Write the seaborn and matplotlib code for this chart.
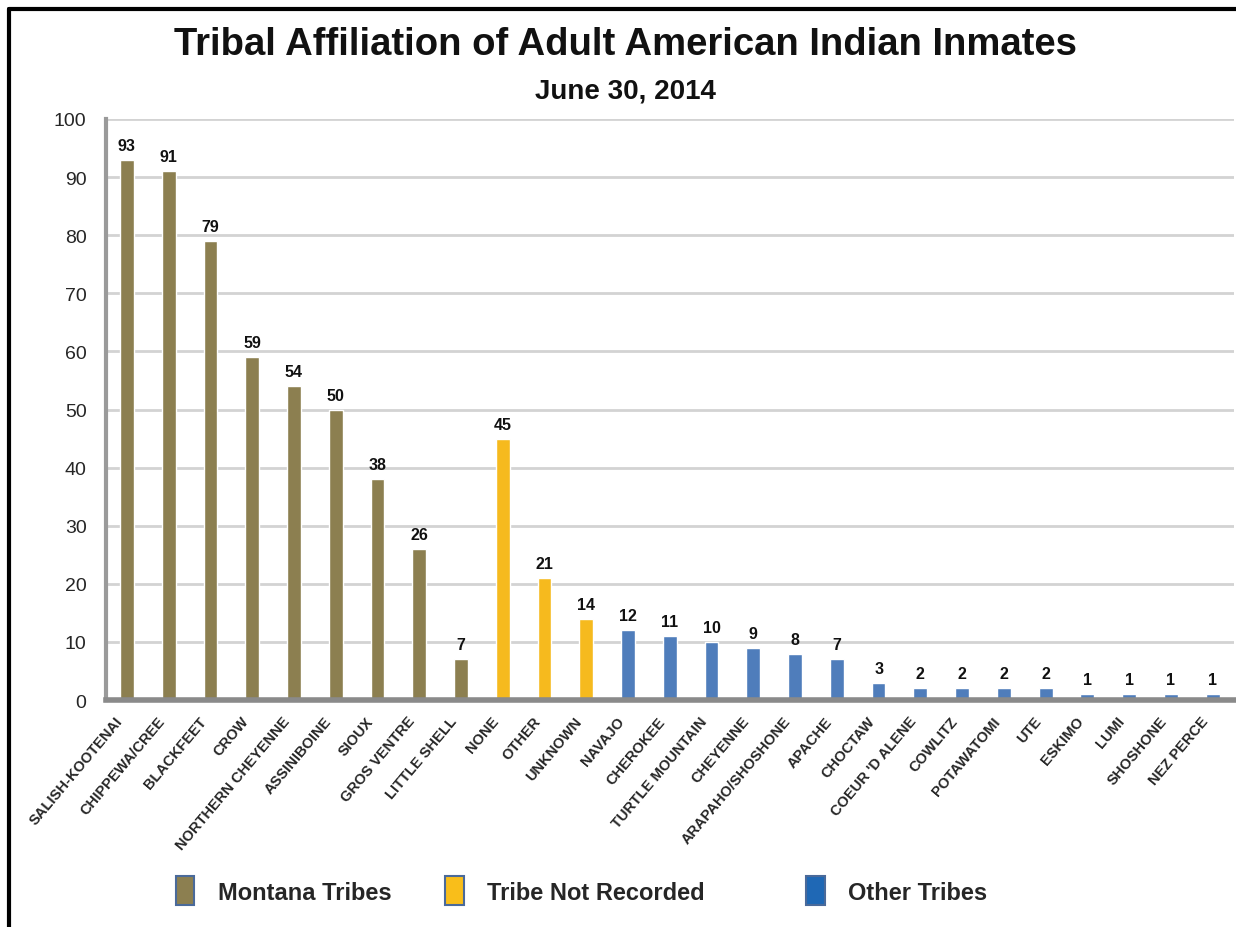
import numpy as np
import pandas as pd
import matplotlib
matplotlib.use("Agg")
import matplotlib.pyplot as plt
import matplotlib.transforms as mtransforms
import seaborn as sns
from matplotlib.patches import Patch
from matplotlib.lines import Line2D

# data
tribes = [
    "SALISH-KOOTENAI", "CHIPPEWA/CREE", "BLACKFEET", "CROW", "NORTHERN CHEYENNE",
    "ASSINIBOINE", "SIOUX", "GROS VENTRE", "LITTLE SHELL",
    "NONE", "OTHER", "UNKNOWN",
    "NAVAJO", "CHEROKEE", "TURTLE MOUNTAIN", "CHEYENNE", "ARAPAHO/SHOSHONE",
    "APACHE", "CHOCTAW", "COEUR 'D ALENE", "COWLITZ", "POTAWATOMI", "UTE",
    "ESKIMO", "LUMI", "SHOSHONE", "NEZ PERCE",
]
inmates = [93, 91, 79, 59, 54, 50, 38, 26, 7,
           45, 21, 14,
           12, 11, 10, 9, 8, 7, 3, 2, 2, 2, 2, 1, 1, 1, 1]
groups = (["Montana Tribes"] * 9 + ["Tribe Not Recorded"] * 3
          + ["Other Tribes"] * 15)
group_names = ["Montana Tribes", "Tribe Not Recorded", "Other Tribes"]

bar_colors = {"Montana Tribes": "#8C7F50",
              "Tribe Not Recorded": "#F6BA1E",
              "Other Tribes": "#4F7DBB"}
legend_colors = {"Montana Tribes": "#8C7F50",
                 "Tribe Not Recorded": "#F9BE1A",
                 "Other Tribes": "#1F68B5"}

df = pd.DataFrame({"tribe": tribes, "n": inmates, "group": groups})

sns.set_style("white")
plt.rcParams["font.family"] = ["Liberation Sans", "DejaVu Sans"]

fig = plt.figure(figsize=(12.36, 9.28), dpi=100)
ax = fig.add_axes([0.0858, 0.2446, 0.9122, 0.6261])

sns.barplot(data=df, x="tribe", y="n", hue="group", palette=bar_colors,
            dodge=False, width=0.33, legend=False, ax=ax, saturation=1)

for c in ax.containers:
    ax.bar_label(c, padding=5, fontsize=11.5, fontweight="bold", color="#111111")

ax.set_ylim(0, 100)
ax.set_xlim(-0.5, len(tribes) - 0.5)
ax.set_yticks(np.arange(0, 101, 10))
ax.yaxis.grid(True, color="#d3d3d3", linewidth=2)
ax.set_axisbelow(True)
ax.set_xlabel("")
ax.set_ylabel("")

for s in ["top", "right"]:
    ax.spines[s].set_visible(False)
ax.spines["left"].set_color("#9a9a9a")
ax.spines["left"].set_linewidth(3)
ax.spines["bottom"].set_color("#8a8a8a")
ax.spines["bottom"].set_linewidth(4)

ax.tick_params(axis="y", length=7, width=2, color="#b0b0b0", labelsize=14, pad=7)
ax.tick_params(axis="x", which="major", length=0, pad=10)
ax.set_xticks(np.arange(-0.5, len(tribes), 1), minor=True)
ax.tick_params(axis="x", which="minor", length=5, width=1, color="#b0b0b0")
ax.set_xticks(range(len(tribes)))
ax.set_xticklabels(tribes, rotation=50, ha="right", rotation_mode="anchor",
                   fontsize=10.5, fontweight="bold")
shift = mtransforms.ScaledTranslation(-12 / 100, 0, fig.dpi_scale_trans)
for lab in ax.get_xticklabels():
    lab.set_transform(lab.get_transform() + shift)

fig.text(0.506, 0.951, "Tribal Affiliation of Adult American Indian Inmates",
         ha="center", va="center", fontsize=27.5, fontweight="bold",
         color="#111111")
fig.text(0.506, 0.901, "June 30, 2014", ha="center", va="center",
         fontsize=20, fontweight="bold", color="#111111")

# three legend entries, spaced like the reference
legend_x = [0.142, 0.36, 0.652]
for g, x in zip(group_names, legend_x):
    h = Patch(facecolor=legend_colors[g], edgecolor="#4a6a9a", linewidth=1.5)
    fig.legend([h], [g], loc="center left", bbox_to_anchor=(x, 0.039),
               frameon=False, handlelength=0.8, handleheight=1.5,
               handletextpad=1.0, borderaxespad=0, borderpad=0,
               prop={"weight": "bold", "size": 17})

# black frame on the left and top
fig.add_artist(Line2D([0.0075, 0.0075], [0, 0.989], color="black", linewidth=3,
                      transform=fig.transFigure))
fig.add_artist(Line2D([0.0075, 1], [0.989, 0.989], color="black", linewidth=3,
                      transform=fig.transFigure))

fig.savefig("out.png", dpi=100, facecolor="white")
